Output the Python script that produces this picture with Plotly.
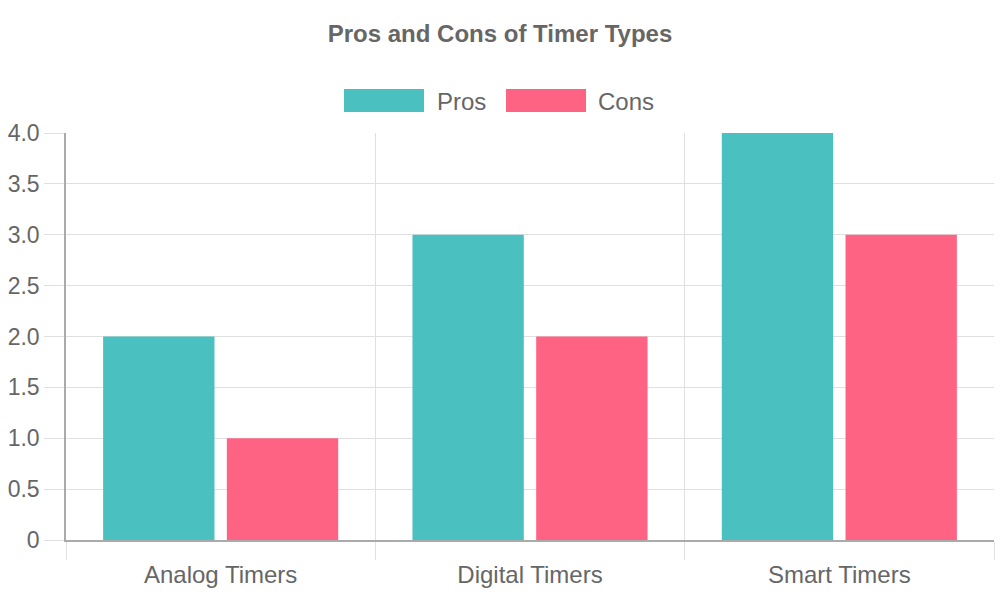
import plotly.graph_objects as go

categories = ["Analog Timers", "Digital Timers", "Smart Timers"]
pros = [2, 3, 4]
cons = [1, 2, 3]
series_names = ["Pros", "Cons"]
series_colors = ["#4BC0C0", "#FF6384"]
y_tickvals = [0, 0.5, 1, 1.5, 2, 2.5, 3, 3.5, 4]
y_ticktext = ["0", "0.5", "1.0", "1.5", "2.0", "2.5", "3.0", "3.5", "4.0"]

W, H = 1000, 600
L, R, T, B = 66, 6, 133, 60
pw, ph = W - L - R, H - T - B

fig = go.Figure()
for name, vals, col in zip(series_names, [pros, cons], series_colors):
    fig.add_trace(go.Bar(x=categories, y=vals, name=name, marker=dict(color=col, line=dict(width=0)),
                         showlegend=False))

font_family = "Liberation Sans, Arial, sans-serif"
grey = "#666666"
grid = "#e0e0e0"

# Manual legend (big boxes like the reference)
def px_x(p):
    return (p - L) / pw

def px_y(p):
    return (H - B - p) / ph

shapes = []
annotations = []
legend_items = [(344, 437), (506, 598)]
for (bx, tx), name, col in zip(legend_items, series_names, series_colors):
    shapes.append(dict(type="rect", xref="paper", yref="paper",
                       x0=px_x(bx), x1=px_x(bx + 80), y0=px_y(112), y1=px_y(89),
                       fillcolor=col, line=dict(width=0)))
    annotations.append(dict(xref="paper", yref="paper", x=px_x(tx - 2), y=px_y(101),
                            xanchor="left", yanchor="middle", showarrow=False,
                            text=name, font=dict(family=font_family, size=24, color=grey)))

fig.update_layout(
    width=W, height=H,
    margin=dict(l=L, r=R, t=T, b=B),
    paper_bgcolor="white", plot_bgcolor="white",
    barmode="group", bargap=0.2, bargroupgap=0.1,
    title=dict(text="<b>Pros and Cons of Timer Types</b>", x=0.5, xref="container", xanchor="center",
               y=1 - 34 / H, yref="container", yanchor="middle",
               font=dict(family=font_family, size=24, color=grey)),
    shapes=shapes, annotations=annotations,
    xaxis=dict(type="category", tickson="boundaries", showgrid=True, gridcolor=grid, gridwidth=1,
               ticks="outside", ticklen=18, tickcolor=grid, tickwidth=1,
               showline=True, linecolor="#aaaaaa", linewidth=1.5,
               tickfont=dict(family=font_family, size=24, color=grey),
               ticklabelstandoff=12,
               range=[-0.5, 2.5], mirror=False, zeroline=False),
    yaxis=dict(range=[0, 4], tickvals=y_tickvals, ticktext=y_ticktext,
               showgrid=True, gridcolor=grid, gridwidth=1,
               ticks="outside", ticklen=20, tickcolor=grid, tickwidth=1,
               showline=True, linecolor="#aaaaaa", linewidth=1.5, zeroline=False,
               tickfont=dict(family=font_family, size=23, color=grey)),
)

fig.write_html("out.html")
